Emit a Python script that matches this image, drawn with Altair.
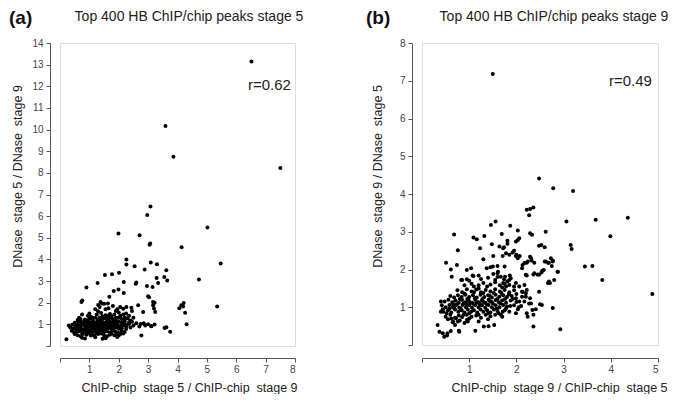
import altair as alt
import pandas as pd

FONT = "Liberation Sans"

# ---------------- panel (a): stage 5 peaks ----------------
a_title = "Top 400 HB ChIP/chip peaks stage 5"
a_tag = "(a)"
a_r = "r=0.62"
a_xtitle = "ChIP-chip\u00a0 stage 5 / ChIP-chip\u00a0 stage 9"
a_ytitle = "DNase\u00a0 stage 5 / DNase\u00a0 stage 9"
a_xticks = [0, 1, 2, 3, 4, 5, 6, 7, 8]
a_yticks = [0, 1, 2, 3, 4, 5, 6, 7, 8, 9, 10, 11, 12, 13, 14]

a_outer = [
    (6.52, 13.15), (3.59, 10.16), (3.86, 8.75), (7.5, 8.22), (3.08, 6.45), (2.97, 6.05),
    (1.99, 5.2), (2.71, 5.12), (3.07, 4.74), (3.05, 4.68), (5.02, 5.48), (4.14, 4.56),
    (5.47, 3.81), (2.26, 4.0), (2.26, 3.76), (2.54, 3.69), (2.88, 3.53), (3.09, 3.86),
    (3.3, 3.78), (3.62, 3.5), (1.53, 3.28), (1.77, 3.32), (2.01, 3.39), (0.9, 2.7),
    (1.28, 2.91), (2.17, 2.96), (2.6, 2.93), (2.58, 2.88), (2.96, 2.77), (3.15, 2.73),
    (3.29, 3.14), (3.34, 2.91), (3.55, 3.19), (3.65, 3.03), (4.73, 3.07), (1.83, 2.54),
    (1.99, 2.61), (2.17, 2.45), (1.68, 2.28), (0.73, 2.03), (0.76, 2.1), (1.38, 2.03),
    (1.43, 1.96), (1.63, 1.96), (2.66, 1.88), (2.26, 1.8), (2.43, 1.77), (2.83, 1.57),
    (2.45, 1.62), (3.0, 2.3), (3.03, 2.25), (3.17, 2.03), (3.22, 2.0), (3.17, 1.88),
    (3.2, 1.73), (3.24, 1.57), (4.13, 1.88), (4.21, 1.99), (4.19, 1.83), (4.06, 1.75),
    (4.26, 1.54), (4.31, 1.01), (5.35, 1.83), (3.56, 0.83), (3.62, 0.87), (3.75, 0.66),
    (2.77, 0.49), (3.22, 0.99), (3.11, 0.91), (0.22, 0.31),
]
a_core = [
    (0.75, 0.38), (0.85, 0.35), (1.45, 0.33), (1.55, 0.36), (1.95, 0.42), (2.0, 0.48), (1.2, 0.4),
    (0.5, 0.55), (0.6, 0.5), (0.9, 0.52), (1.05, 0.48), (1.3, 0.55), (1.5, 0.5), (1.7, 0.52),
    (1.85, 0.5), (2.05, 0.55), (0.7, 0.45), (1.15, 0.5), (1.6, 0.45),
    (0.4, 0.7), (0.55, 0.65), (0.65, 0.68), (0.75, 0.6), (0.85, 0.66), (0.95, 0.62), (1.0, 0.7),
    (1.1, 0.64), (1.2, 0.68), (1.3, 0.62), (1.4, 0.7), (1.5, 0.65), (1.6, 0.68), (1.7, 0.62),
    (1.8, 0.7), (1.9, 0.66), (2.0, 0.6), (2.1, 0.7), (2.2, 0.65), (1.25, 0.58), (0.9, 0.72),
    (0.35, 0.85), (0.45, 0.8), (0.55, 0.78), (0.62, 0.85), (0.72, 0.8), (0.8, 0.76), (0.88, 0.84),
    (0.95, 0.78), (1.02, 0.82), (1.08, 0.76), (1.15, 0.85), (1.22, 0.78), (1.3, 0.83), (1.38, 0.77),
    (1.45, 0.85), (1.52, 0.8), (1.6, 0.76), (1.68, 0.84), (1.75, 0.8), (1.82, 0.78), (1.9, 0.85),
    (2.0, 0.8), (2.1, 0.82), (2.25, 0.78), (2.4, 0.85),
    (0.3, 0.95), (0.42, 0.98), (0.52, 0.92), (0.6, 1.0), (0.68, 0.94), (0.78, 0.98), (0.85, 0.92),
    (0.92, 1.0), (1.0, 0.94), (1.06, 0.98), (1.12, 0.92), (1.18, 1.0), (1.26, 0.95), (1.33, 0.9),
    (1.4, 0.98), (1.48, 0.93), (1.55, 1.0), (1.62, 0.95), (1.7, 0.9), (1.78, 0.98), (1.86, 0.94),
    (1.95, 1.0), (2.05, 0.92), (2.15, 0.96), (2.3, 0.98), (2.5, 0.95), (2.7, 0.9), (2.9, 0.95),
    (3.1, 0.92),
    (0.5, 1.08), (0.62, 1.12), (0.72, 1.06), (0.82, 1.12), (0.9, 1.08), (0.98, 1.14), (1.05, 1.06),
    (1.12, 1.12), (1.2, 1.08), (1.28, 1.14), (1.36, 1.06), (1.44, 1.12), (1.52, 1.08), (1.6, 1.14),
    (1.68, 1.06), (1.76, 1.1), (1.84, 1.14), (1.92, 1.06), (2.0, 1.12), (2.1, 1.08), (2.2, 1.14),
    (2.35, 1.1), (2.45, 1.12), (2.6, 1.05), (2.75, 1.02), (2.85, 1.05), (3.0, 1.0),
    (0.7, 1.25), (0.85, 1.22), (1.0, 1.28), (1.1, 1.22), (1.2, 1.3), (1.3, 1.24), (1.4, 1.2),
    (1.5, 1.28), (1.6, 1.22), (1.7, 1.3), (1.8, 1.25), (1.9, 1.2), (2.0, 1.3), (2.1, 1.25),
    (2.2, 1.22), (2.3, 1.28), (2.4, 1.18), (1.05, 1.35), (1.75, 1.38),
    (0.75, 1.45), (1.0, 1.5), (1.25, 1.45), (1.4, 1.52), (1.55, 1.42), (1.7, 1.48), (1.85, 1.45),
    (2.0, 1.55), (2.15, 1.45), (1.3, 1.6), (1.9, 1.62), (2.05, 1.4), (2.25, 1.5),
    (1.3, 1.9), (1.35, 1.8), (1.5, 1.95), (1.65, 1.75), (1.8, 1.85), (1.95, 1.7), (2.05, 1.8),
    (2.15, 1.72), (1.2, 1.7), (1.55, 1.7),
    (0.95, 0.88), (1.05, 0.9), (1.15, 0.96), (1.25, 0.88), (1.35, 0.96), (1.45, 0.9), (1.55, 0.88),
    (1.65, 0.98), (1.75, 0.9), (1.85, 1.02), (0.98, 1.02), (1.08, 1.04), (1.18, 1.1), (1.28, 1.02),
    (1.38, 1.12), (1.48, 1.04), (1.58, 1.1), (1.68, 1.16), (1.8, 1.06), (1.9, 1.14),
    (0.88, 0.7), (0.98, 0.74), (1.18, 0.72), (1.28, 0.74), (1.48, 0.72), (1.58, 0.74), (1.78, 0.72),
    (0.68, 0.74), (0.58, 0.88), (0.7, 0.88), (0.8, 1.04), (0.7, 1.16), (0.6, 1.2), (0.9, 1.18),
    (1.1, 1.3), (1.35, 1.32), (1.6, 1.32), (1.9, 1.3), (2.2, 1.3), (2.1, 0.9), (2.25, 0.9),
    (2.35, 1.02), (2.2, 1.02), (0.78, 0.55), (1.0, 0.58), (1.4, 0.58), (1.75, 0.58), (1.95, 0.55),
    (2.15, 0.58), (0.48, 0.62), (1.12, 0.8), (1.32, 0.7), (1.62, 0.82), (1.95, 0.9), (0.65, 1.3),
    (0.95, 1.4), (1.45, 1.38), (1.65, 1.4), (2.35, 1.4), (2.5, 1.3),
]

# ---------------- panel (b): stage 9 peaks ----------------
b_title = "Top 400 HB ChIP/chip peaks stage 9"
b_tag = "(b)"
b_r = "r=0.49"
b_xtitle = "ChIP-chip\u00a0 stage 9 / ChIP-chip\u00a0 stage 5"
b_ytitle = "DNase\u00a0 stage 9 / DNase\u00a0 stage 5"
b_xticks = [0, 1, 2, 3, 4, 5]
b_yticks = [0, 1, 2, 3, 4, 5, 6, 7, 8]

b_outer = [
    (1.5, 7.18), (2.48, 4.41), (2.78, 4.15), (3.2, 4.08), (2.22, 3.58), (2.29, 3.6), (2.36, 3.64),
    (2.27, 3.44), (1.56, 3.27), (1.46, 3.18), (1.87, 3.16), (2.03, 3.03), (3.06, 3.27), (3.68, 3.32),
    (4.36, 3.37), (3.99, 2.88), (2.62, 3.0), (2.29, 2.96), (2.33, 2.92), (0.68, 2.93), (1.09, 2.85),
    (1.16, 2.8), (1.32, 2.89), (1.69, 2.94), (2.03, 2.78), (2.06, 2.83), (1.81, 2.76), (1.23, 2.56),
    (1.48, 2.67), (1.74, 2.59), (1.95, 2.5), (0.76, 2.51), (0.74, 2.12), (1.3, 2.27), (1.51, 2.36),
    (1.71, 2.36), (2.0, 2.39), (2.07, 2.36), (2.31, 2.3), (2.29, 2.34), (2.48, 2.63), (2.53, 2.65),
    (2.6, 2.59), (3.15, 2.65), (3.17, 2.54), (3.45, 2.08), (3.61, 2.09), (3.82, 1.72), (0.51, 2.18),
    (0.61, 2.0), (0.63, 1.81), (0.95, 1.99), (1.04, 2.03), (1.09, 1.83), (1.2, 1.84), (1.37, 2.03),
    (1.45, 2.06), (1.5, 2.08), (1.51, 1.88), (1.6, 2.09), (1.61, 1.94), (1.6, 1.9), (1.75, 2.08),
    (1.76, 1.81), (1.86, 1.84), (1.88, 1.77), (2.12, 2.03), (2.13, 2.12), (2.17, 2.17), (2.24, 2.21),
    (2.2, 1.86), (2.38, 1.9), (2.45, 1.87), (2.55, 1.97), (2.62, 2.21), (2.69, 2.18), (2.73, 2.3),
    (2.77, 2.24), (2.88, 1.94), (2.75, 2.09), (4.88, 1.35), (2.93, 0.42), (2.36, 0.49), (2.77, 0.98),
    (2.5, 1.08), (2.54, 1.06), (2.48, 1.41), (2.24, 0.75), (2.22, 0.84), (2.41, 0.95), (2.69, 1.68),
    (2.71, 1.64), (2.8, 1.72), (0.4, 1.15), (0.44, 0.95), (0.4, 0.88), (0.33, 0.53), (0.37, 0.35),
    (0.44, 0.31), (0.47, 0.22), (0.53, 0.25), (0.54, 0.31), (0.61, 0.37), (0.79, 0.35), (1.13, 0.38),
    (1.31, 0.49), (1.41, 0.5), (1.53, 0.53), (0.72, 0.71), (0.76, 0.62), (0.97, 0.62), (2.1, 1.03),
    (2.31, 1.1), (2.29, 1.24), (2.2, 1.37), (2.12, 1.41), (2.22, 1.46), (2.17, 1.59), (2.67, 1.64),
    (2.87, 1.94), (2.36, 1.87), (2.48, 1.86), (2.53, 1.92), (2.58, 1.99), (2.22, 1.84), (2.6, 2.21),
    (2.67, 2.18), (2.77, 2.21), (2.32, 2.24), (2.38, 2.18), (2.22, 2.18), (0.83, 1.72), (0.95, 1.74),
    (1.07, 1.84), (1.64, 2.61), (1.72, 2.56), (1.78, 2.43), (1.85, 2.39), (1.92, 2.45), (1.99, 2.36),
    (2.03, 2.3), (1.81, 2.68), (1.99, 2.74), (1.67, 1.81), (1.74, 1.74), (1.81, 1.68), (1.72, 1.64),
    (1.78, 1.55), (1.85, 1.59), (1.99, 1.64), (2.06, 1.55), (2.13, 1.41), (2.12, 1.28), (1.99, 1.24),
    (2.06, 1.15), (2.17, 1.15), (2.2, 1.28), (2.27, 1.1), (2.34, 0.93), (2.36, 0.8), (1.71, 0.88),
    (1.67, 0.8), (1.78, 0.97), (1.87, 1.03), (1.99, 0.84), (2.03, 0.95), (0.66, 0.62), (0.7, 0.53),
    (0.95, 0.66), (0.78, 0.38),
]
b_core = [
    (0.65, 0.6), (0.8, 0.65), (0.9, 0.58), (1.0, 0.7), (1.2, 0.62), (1.4, 0.68), (0.55, 0.68),
    (0.5, 0.75), (0.6, 0.8), (0.7, 0.72), (0.78, 0.78), (0.85, 0.74), (0.95, 0.8), (1.05, 0.75),
    (1.15, 0.78), (1.25, 0.72), (1.35, 0.8), (1.45, 0.76), (1.55, 0.8), (1.7, 0.75), (0.62, 0.7),
    (0.45, 0.88), (0.55, 0.92), (0.62, 0.86), (0.7, 0.94), (0.77, 0.88), (0.84, 0.92), (0.9, 0.86),
    (0.97, 0.94), (1.04, 0.88), (1.1, 0.92), (1.17, 0.86), (1.24, 0.94), (1.3, 0.88), (1.38, 0.92),
    (1.45, 0.86), (1.52, 0.94), (1.6, 0.9), (1.75, 0.92), (1.85, 0.88), (0.52, 0.84),
    (0.42, 1.05), (0.5, 1.0), (0.58, 1.06), (0.65, 1.0), (0.72, 1.05), (0.79, 0.99), (0.86, 1.06),
    (0.93, 1.0), (1.0, 1.05), (1.06, 0.99), (1.13, 1.06), (1.2, 1.0), (1.27, 1.05), (1.34, 0.99),
    (1.41, 1.06), (1.48, 1.0), (1.56, 1.05), (1.64, 1.0), (1.72, 1.06), (1.8, 1.02), (1.95, 1.05),
    (2.05, 1.0),
    (0.48, 1.15), (0.56, 1.2), (0.64, 1.13), (0.71, 1.18), (0.78, 1.12), (0.85, 1.19), (0.92, 1.13),
    (0.99, 1.18), (1.06, 1.12), (1.13, 1.19), (1.2, 1.13), (1.27, 1.18), (1.34, 1.12), (1.41, 1.2),
    (1.48, 1.14), (1.56, 1.19), (1.63, 1.13), (1.7, 1.18), (1.78, 1.12), (1.88, 1.18), (2.0, 1.14),
    (0.6, 1.3), (0.68, 1.26), (0.76, 1.32), (0.84, 1.27), (0.92, 1.33), (1.0, 1.27), (1.08, 1.32),
    (1.16, 1.26), (1.24, 1.33), (1.32, 1.27), (1.4, 1.32), (1.48, 1.26), (1.56, 1.33), (1.64, 1.28),
    (1.72, 1.32), (1.8, 1.27), (1.9, 1.3), (2.0, 1.35),
    (0.75, 1.45), (0.85, 1.4), (0.95, 1.48), (1.05, 1.42), (1.15, 1.47), (1.25, 1.4), (1.35, 1.46),
    (1.45, 1.42), (1.55, 1.48), (1.65, 1.42), (1.75, 1.46), (1.85, 1.4), (1.95, 1.45),
    (0.9, 1.58), (1.05, 1.62), (1.2, 1.58), (1.3, 1.64), (1.45, 1.6), (1.55, 1.66), (1.65, 1.58),
    (1.75, 1.62), (1.1, 1.55), (1.38, 1.55),
    (1.25, 1.75), (1.4, 1.78), (1.55, 1.72), (1.6, 1.8), (1.0, 1.7), (0.85, 1.72),
    (0.82, 0.96), (0.88, 1.1), (0.95, 1.08), (1.02, 1.12), (1.1, 1.08), (1.16, 1.14), (1.22, 1.08),
    (1.3, 1.14), (1.37, 1.08), (1.44, 1.16), (0.74, 1.08), (0.68, 0.98), (0.8, 1.22), (0.96, 1.22),
    (1.12, 1.24), (1.28, 1.22), (1.44, 1.3), (1.52, 1.38), (1.6, 1.22), (1.68, 1.38), (0.58, 0.96),
    (0.66, 1.08), (0.88, 0.8), (1.0, 0.84), (1.2, 0.8), (1.4, 0.84), (1.62, 0.84), (1.3, 1.38),
    (1.1, 1.4), (0.9, 1.36), (1.5, 1.1), (1.58, 0.96), (1.66, 1.1), (1.76, 1.22), (1.84, 1.34),
    (1.92, 1.22), (1.95, 1.55), (1.85, 1.72), (1.7, 1.52), (1.2, 1.5),
]


def frame(pairs):
    return pd.DataFrame({"x": [p[0] for p in pairs], "y": [p[1] for p in pairs]})


def axis(ticks, title, offset, title_pos=None, orient="x", title_pad=7):
    kw = dict(
        values=ticks, title=title, offset=offset, grid=False,
        labelExpr="datum.value == 0 ? '' : datum.label",
        domainColor="#555", tickColor="#555", tickSize=4, tickWidth=1,
        labelColor="#444", labelFont=FONT, labelFontSize=10, labelPadding=2,
        titleFont=FONT, titleFontSize=12.5, titleFontWeight="normal", titleColor="#222",
        titlePadding=title_pad,
    )
    if orient == "x":
        if title_pos is not None:
            kw["titleX"] = title_pos
    else:
        kw["labelPadding"] = 3
        if title_pos is not None:
            kw["titleY"] = title_pos
    return alt.Axis(**kw)


def panel(pairs, xticks, yticks, xtitle, ytitle, w, h, xoff, yoff, title, tag, rtxt,
          title_cx, tag_x, r_x, r_y, xtitle_x, ytitle_y, ytitle_pad):
    df = frame(pairs)
    pts = alt.Chart(df).mark_circle(size=16, color="black", opacity=1).encode(
        x=alt.X("x:Q", scale=alt.Scale(domain=[xticks[0], xticks[-1]], nice=False),
                axis=axis(xticks, xtitle, xoff, xtitle_x, "x")),
        y=alt.Y("y:Q", scale=alt.Scale(domain=[yticks[0], yticks[-1]], nice=False),
                axis=axis(yticks, ytitle, yoff, ytitle_y, "y", ytitle_pad)),
    )
    one = pd.DataFrame({"t": [0]})
    ttl = alt.Chart(one).mark_text(font=FONT, fontSize=14, color="#222", align="center",
                                   baseline="middle").encode(
        x=alt.value(title_cx), y=alt.value(-26), text=alt.value(title))
    tg = alt.Chart(one).mark_text(font=FONT, fontSize=19, fontWeight="bold", color="#111",
                                  align="left", baseline="middle").encode(
        x=alt.value(tag_x), y=alt.value(-25), text=alt.value(tag))
    rr = alt.Chart(one).mark_text(font=FONT, fontSize=15, color="#222", align="left",
                                  baseline="middle").encode(
        x=alt.value(r_x), y=alt.value(r_y), text=alt.value(rtxt))
    return alt.layer(pts, ttl, tg, rr).properties(width=w, height=h)


left = panel(a_outer + a_core, a_xticks, a_yticks, a_xtitle, a_ytitle, 235, 303, 12, 10,
             a_title, a_tag, a_r, 129, -51, 188, 42, 129, 133, 7)
right = panel(b_outer + b_core, b_xticks, b_yticks, b_xtitle, b_ytitle, 236, 302, 13, 10,
              b_title, b_tag, b_r, 132, -56, 187, 38, 137, 133, 15)

chart = alt.hconcat(left, right, spacing=61).properties(padding=0).configure_view(
    stroke=None).configure(background="white")

chart.save("out.html", embed_options={"renderer": "svg", "actions": False})
